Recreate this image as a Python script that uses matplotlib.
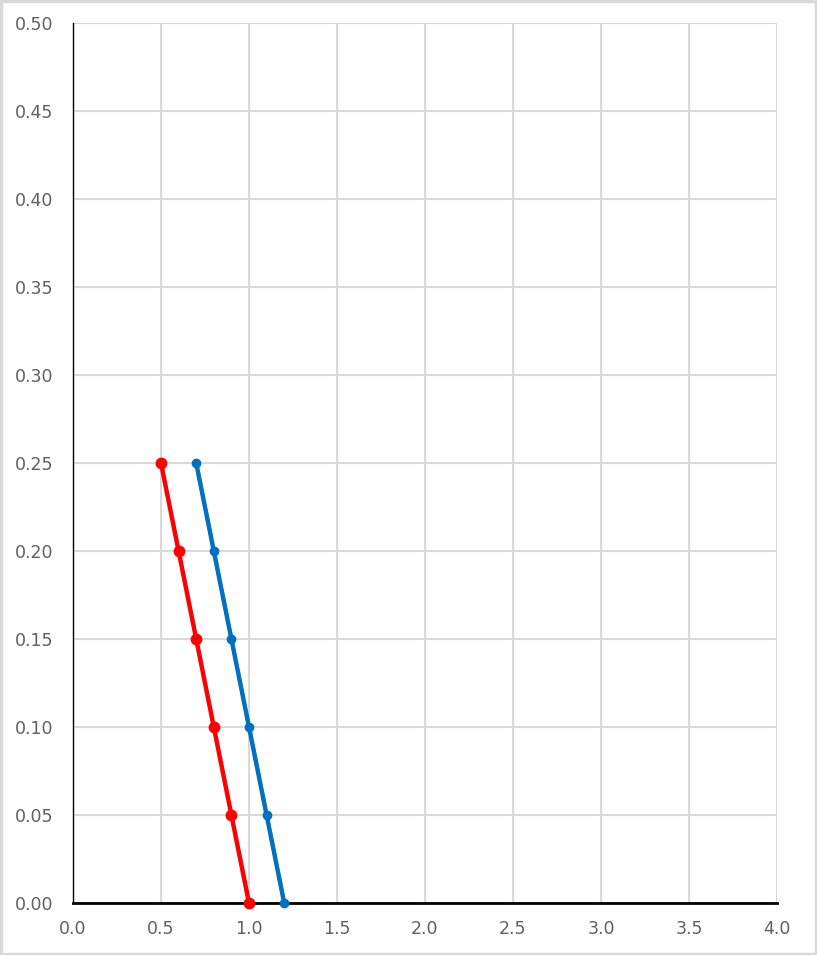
import matplotlib.pyplot as plt
from matplotlib.patches import Rectangle

# Data
y_vals = [0.25, 0.20, 0.15, 0.10, 0.05, 0.00]
red_x = [0.5, 0.6, 0.7, 0.8, 0.9, 1.0]
blue_x = [0.7, 0.8, 0.9, 1.0, 1.1, 1.2]
x_ticks = [0.0, 0.5, 1.0, 1.5, 2.0, 2.5, 3.0, 3.5, 4.0]
y_ticks = [0.00, 0.05, 0.10, 0.15, 0.20, 0.25, 0.30, 0.35, 0.40, 0.45, 0.50]

fig = plt.figure(figsize=(8.17, 9.55), dpi=100)
ax = fig.add_axes([73 / 817, 1 - 903 / 955, 704 / 817, 880 / 955])

# figure border
fig.patches.append(Rectangle((0.001, 0.001), 0.998, 0.998, transform=fig.transFigure,
                             fill=False, edgecolor="#d9d9d9", linewidth=2.5))

ax.plot(red_x, y_vals, color="#ff0000", linewidth=3.2, marker="o", markersize=7.5,
        zorder=3, clip_on=False)
ax.plot(blue_x, y_vals, color="#0070c0", linewidth=3.2, marker="o", markersize=6,
        zorder=4, clip_on=False)

ax.set_xlim(0, 4.0)
ax.set_ylim(0, 0.5)
ax.set_xticks(x_ticks)
ax.set_yticks(y_ticks)
ax.set_xticklabels([f"{v:.1f}" for v in x_ticks])
ax.set_yticklabels([f"{v:.2f}" for v in y_ticks])
ax.tick_params(length=0, labelsize=12.5, labelcolor="#606060")
ax.tick_params(axis="y", pad=14)
ax.tick_params(axis="x", pad=12)

ax.grid(True, color="#d9d9d9", linewidth=1.5)
ax.set_axisbelow(True)
for side in ["top", "right"]:
    ax.spines[side].set_visible(False)
ax.spines["left"].set_color("black")
ax.spines["left"].set_linewidth(1.0)
ax.spines["bottom"].set_color("black")
ax.spines["bottom"].set_linewidth(2.0)

fig.savefig("out.png", dpi=100)
